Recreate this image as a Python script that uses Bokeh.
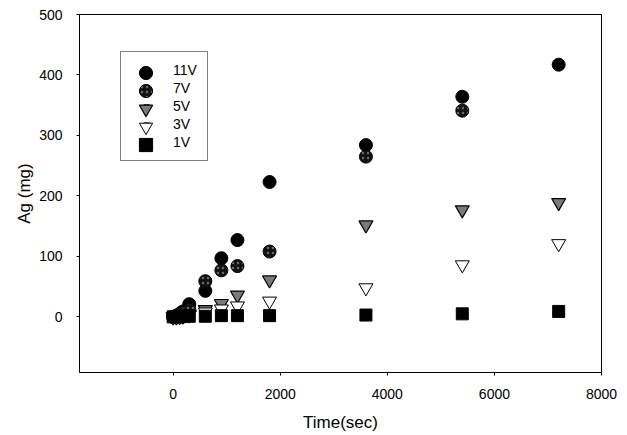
from bokeh.plotting import figure
from bokeh.models import Range1d, SingleIntervalTicker, Legend, LegendItem
from bokeh.embed import file_html
from bokeh.resources import INLINE

# ---- data ----
time_s = [0, 60, 120, 180, 300, 600, 900, 1200, 1800, 3600, 5400, 7200]
time_7v = [0, 60, 120, 180, 300, 600, 900, 1200, 1800, 3600, 5400]
ag_11v = [0, 2, 5, 9, 21, 43, 97, 127, 223, 284, 364, 417]
ag_7v = [0, 1, 3, 6, 12, 59, 77, 84, 108, 265, 341]
ag_5v = [0, 0, 1, 2, 4, 12, 22, 36, 61, 152, 177, 189]
ag_3v = [0, 0, 1, 1, 3, 8, 13, 18, 26, 48, 86, 121]
ag_1v = [0, 0, 0, 1, 1, 1, 2, 2, 2, 3, 5, 9]
series_labels = ["11V", "7V", "5V", "3V", "1V"]

FONT = "Liberation Sans"

p = figure(width=627, height=435, output_backend="svg", toolbar_location=None,
           x_range=Range1d(-1750, 8000), y_range=Range1d(-92, 500),
           min_border_left=79, min_border_right=26, min_border_top=14,
           min_border_bottom=63)

p.xgrid.visible = False
p.ygrid.visible = False
p.outline_line_color = "black"
p.outline_line_width = 1
p.background_fill_color = "white"
p.border_fill_color = "white"

p.xaxis.ticker = SingleIntervalTicker(interval=2000)
p.yaxis.ticker = SingleIntervalTicker(interval=100)
for ax in (p.xaxis[0], p.yaxis[0]):
    ax.minor_tick_line_color = None
    ax.major_tick_in = 0
    ax.major_tick_out = 3
    ax.major_tick_line_color = "black"
    ax.axis_line_color = "black"
    ax.major_label_text_font = FONT
    ax.major_label_text_font_size = "14px"
    ax.major_label_text_color = "black"
    ax.axis_label_text_font = FONT
    ax.axis_label_text_font_size = "17px"
    ax.axis_label_text_font_style = "normal"
    ax.axis_label_text_color = "black"

p.xaxis.axis_label = "Time(sec)"
p.yaxis.axis_label = "Ag (mg)"
p.xaxis.major_label_standoff = 12
p.xaxis.axis_label_standoff = 11
p.yaxis.major_label_standoff = 13
p.yaxis.axis_label_standoff = 2

r11 = p.scatter(time_s, ag_11v, marker="circle", size=13,
                fill_color="black", line_color="black")
r7 = p.scatter(time_7v, ag_7v, marker="circle", size=13,
               fill_color="#111111", line_color="black",
               hatch_pattern="dot", hatch_color="#6a6a6a", hatch_scale=5,
               hatch_weight=1)
r5 = p.scatter(time_s, ag_5v, marker="inverted_triangle", size=14,
               fill_color="#7a7a7a", line_color="black", line_width=1.2)
r3 = p.scatter(time_s, ag_3v, marker="inverted_triangle", size=14,
               fill_color="white", line_color="black", line_width=1)
r1 = p.scatter(time_s, ag_1v, marker="square", size=12,
               fill_color="black", line_color="black")
renderers = [r11, r7, r5, r3, r1]

# main legend: box + labels
legend = Legend(items=[LegendItem(label=l, renderers=[r])
                       for l, r in zip(series_labels, renderers)],
                location=(41, 211))
legend.border_line_color = "black"
legend.border_line_width = 1
legend.background_fill_color = "white"
legend.background_fill_alpha = 1
legend.label_text_font = FONT
legend.label_text_font_size = "14px"
legend.label_text_color = "black"
legend.glyph_width = 30
legend.glyph_height = 14
legend.label_height = 14
legend.spacing = 2
legend.padding = 10
legend.margin = 0
legend.label_standoff = 12
p.add_layout(legend, "center")

# larger legend markers, one small overlay legend per entry
for k, r in enumerate(renderers):
    lg = Legend(items=[LegendItem(label="", renderers=[r])],
                location=(50, 283 - 18 * k))
    lg.border_line_color = None
    lg.background_fill_alpha = 0
    lg.glyph_width = 33
    lg.glyph_height = 33
    lg.label_height = 0
    lg.label_standoff = 0
    lg.padding = 0
    lg.margin = 0
    lg.spacing = 0
    p.add_layout(lg, "center")

open("out.html", "w").write(file_html(p, INLINE))
